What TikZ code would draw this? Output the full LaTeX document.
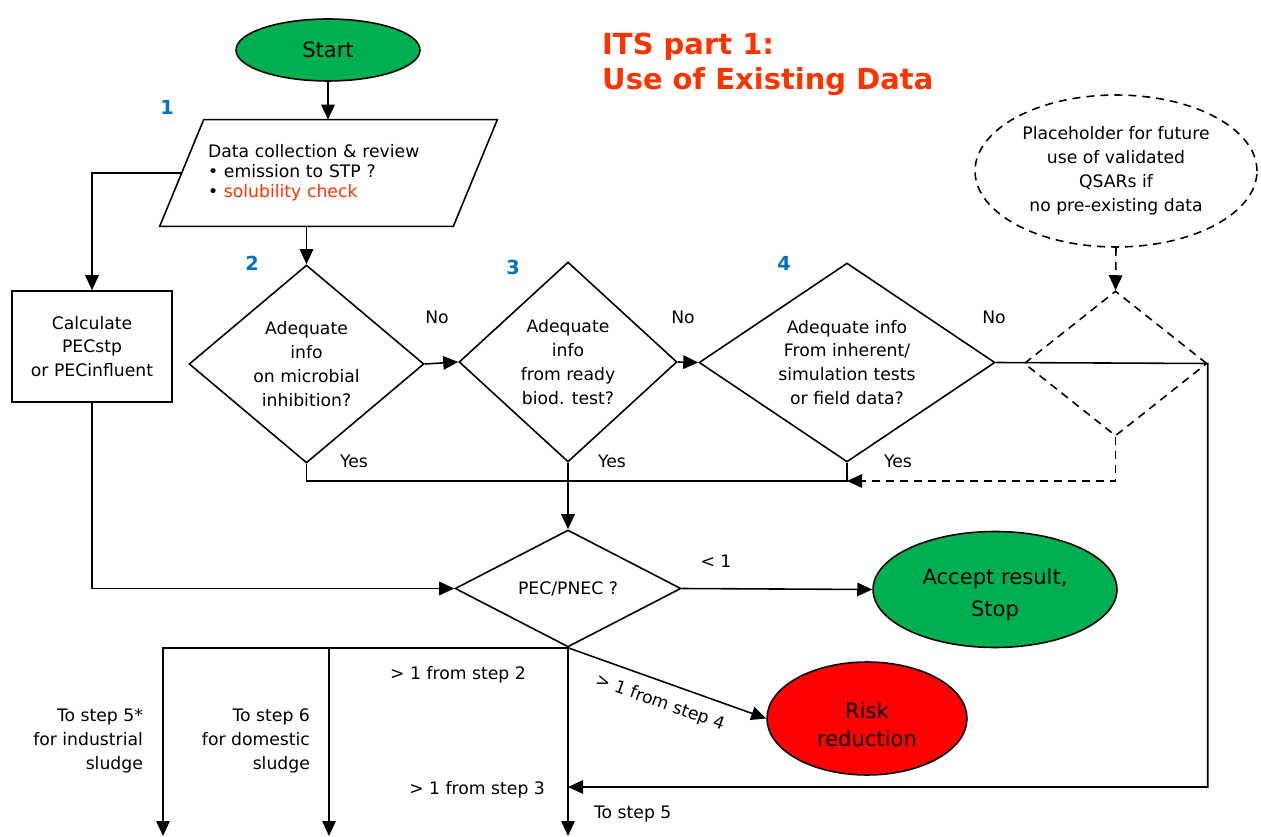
\documentclass[tikz,border=0pt]{standalone}
\usepackage{fontspec}
\setmainfont{DejaVu Sans}
\usepackage{tikz}
\usetikzlibrary{arrows.meta,shapes.geometric,calc}
\definecolor{startgreen}{RGB}{0,176,80}
\definecolor{riskred}{RGB}{255,0,0}
\definecolor{titleorange}{RGB}{255,51,0}
\definecolor{stepblue}{RGB}{0,112,192}

\begin{document}
\begin{tikzpicture}[
    x=0.02cm, y=-0.02cm,
    font=\fontsize{9.8}{13.6}\selectfont,
    base/.style={draw,line width=0.9pt,inner sep=0pt},
    terminal/.style={base,ellipse,fill=startgreen,align=center,font=\fontsize{12}{17}\selectfont},
    decision/.style={base,diamond,align=center},
    process/.style={base,rectangle,align=center},
    conn/.style={line width=0.9pt},
    arrow/.style={conn,-{Triangle[length=3mm,width=2.7mm]}},
    dashed line/.style={dash pattern=on 1.6mm off 1.2mm},
    stepno/.style={text=stepblue,font=\fontsize{11}{13}\selectfont\bfseries},
    lbl/.style={inner sep=1pt}
]
\useasboundingbox (0,0) rectangle (1261,837);

% Title
\node[anchor=west,align=left,text=titleorange,font=\fontsize{16.5}{20}\selectfont\bfseries] (title) at (596,64)
  {ITS part 1:\\Use of Existing Data};

% Start and data collection
\node[terminal,minimum width=3.68cm,minimum height=1.24cm] (start) at (328,50) {Start};
\node[inner sep=0pt,minimum width=5.86cm,minimum height=2.12cm,text width=4.82cm,align=left,
  font=\fontsize{9.8}{11.5}\selectfont] (data) at (328.5,173)
  {Data collection \& review\\\textbullet\ emission to STP ?\\\textbullet\ \textcolor{titleorange}{solubility check}};
\draw[conn] ($(data.north west)+(22,0)$) -- ($(data.north east)+(22,0)$)
  -- ($(data.south east)+(-22,0)$) -- ($(data.south west)+(-22,0)$) -- cycle;
\node[process,minimum width=3.2cm,minimum height=2.22cm] (pecbox) at (92,346.5) {Calculate\\PECstp\\or PECinfluent};

% Decisions
\node[decision,minimum width=4.7cm,minimum height=3.96cm] (d2) at (306.5,364) {Adequate\\info\\on microbial\\inhibition?};
\node[decision,minimum width=4.36cm,minimum height=4.0cm] (d3) at (568,362) {Adequate\\info\\from ready\\biod. test?};
\node[decision,aspect=1.6,minimum width=5.92cm,minimum height=3.98cm] (d4) at (847,362.5) {Adequate info\\From inherent/\\simulation tests\\or field data?};
\node[decision,dashed line,minimum width=3.66cm,minimum height=2.9cm] (dq) at (1115.5,363.5) {};
\node[base,ellipse,dashed line,align=center,minimum width=5.64cm,minimum height=3.04cm] (qsar) at (1116,171)
  {Placeholder for future\\use of validated\\QSARs if\\no pre-existing data};
\node[decision,minimum width=4.52cm,minimum height=2.34cm] (pec) at (568,588.5) {PEC/PNEC ?};

% Outcomes
\node[terminal,minimum width=4.88cm,minimum height=2.32cm] (accept) at (995,589.5)
  {\raisebox{-0.1cm}[\height][\depth]{\shortstack{Accept result,\\[4pt]Stop}}};
\node[terminal,fill=riskred,minimum width=4.0cm,minimum height=2.26cm] (risk) at (867,718.5)
  {\raisebox{-0.12cm}[\height][\depth]{\shortstack{Risk\\[4pt]reduction}}};

% Step numbers
\node[stepno] (n1) at (167,107) {1};
\node[stepno] (n2) at (252,263) {2};
\node[stepno] (n3) at (513,267) {3};
\node[stepno] (n4) at (784,263) {4};

% Helper points
\coordinate (yesjoin) at (568,481);
\coordinate (s3) at (568,787);
\coordinate (o5) at (163,836);
\coordinate (o6) at (329,836);
\coordinate (o3) at (568,836);

% Arrows
\draw[arrow] (start) -- (start |- data.north);
\draw[arrow] (d2.north |- data.south) -- (d2.north);
\draw[arrow] (data.west) -| (pecbox.north);
\draw[arrow] (pecbox.south) |- (pec.west);
\draw[arrow] (d2.east) -- (d3.west);
\draw[arrow] (d3.east) -- (d4.west);
\draw[arrow] (d4.east) -- (dq.east) |- (s3);
\draw[conn] (d2.south) |- (d4.south |- yesjoin) -- (d4.south);
\draw[arrow] (d3.south) -- (pec.north);
\draw[arrow,dashed line] (qsar.south) -- (dq.north);
\draw[arrow,dashed line] (dq.south) |- (d4.south |- yesjoin);
\draw[arrow] (pec.east) -- (accept.west);
\draw[arrow] (pec.south) -- (risk.west);
\draw[arrow] (pec.south) -| (o5);
\draw[arrow] (o6 |- pec.south) -- (o6);
\draw[arrow] (pec.south) -- (o3);

% Labels
\node[lbl] (no2) at (437,317) {No};
\node[lbl] (no3) at (683,317) {No};
\node[lbl] (no4) at (994,317) {No};
\node[lbl] (yes2) at (354,461) {Yes};
\node[lbl] (yes3) at (612,461) {Yes};
\node[lbl] (yes4) at (898,461) {Yes};
\node[lbl] (lt1) at (716,561) {< 1};
\node[lbl,rotate=-19.5] (gt4) at (660,703) {> 1 from step 4};
\node[lbl] (gt2) at (458,675) {> 1 from step 2};
\node[lbl,anchor=east] (gt3) at (547,790) {> 1 from step 3};
\node[lbl,anchor=west] (to5) at (592,814) {To step 5};
\node[lbl,anchor=east,align=right] (to5s) at (145,741) {To step 5*\\for industrial\\sludge};
\node[lbl,anchor=east,align=right] (to6) at (312,741) {To step 6\\for domestic\\sludge};

\end{tikzpicture}
\end{document}
